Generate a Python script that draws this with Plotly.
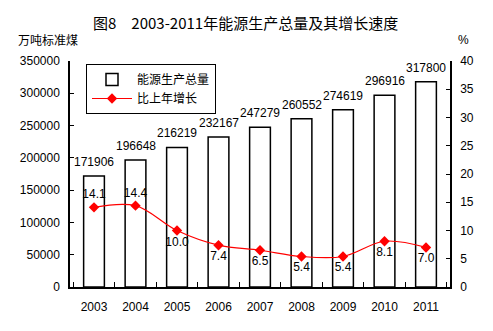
import plotly.graph_objects as go

years = ["2003", "2004", "2005", "2006", "2007", "2008", "2009", "2010", "2011"]
production = [171906, 196648, 216219, 232167, 247279, 260552, 274619, 296916, 317800]
growth = [14.1, 14.4, 10.0, 7.4, 6.5, 5.4, 5.4, 8.1, 7.0]
growth_labels = ["14.1", "14.4", "10.0", "7.4", "6.5", "5.4", "5.4", "8.1", "7.0"]
label_pos = ["top center", "top center"] + ["bottom center"] * 7

num_font = dict(family="Liberation Sans, Arial", size=12, color="black")

fig = go.Figure()
fig.add_trace(go.Bar(
    x=years, y=production, name="能源生产总量",
    marker=dict(color="white", line=dict(color="black", width=1.5)),
    width=0.5,
))
fig.add_trace(go.Scatter(
    x=years, y=growth, name="比上年增长", yaxis="y2",
    mode="lines+markers+text",
    line=dict(color="red", width=1.2, shape="spline"),
    marker=dict(symbol="diamond", size=8, color="red"),
    text=growth_labels, textposition=label_pos, textfont=num_font,
))

pw = 493 - 70 - 43
ph = 331 - 61 - 44

def px(x):
    return (x - 70) / pw

def py(y):
    return (331 - 44 - y) / ph

anns = [
    dict(text="图8　2003-2011年能源生产总量及其增长速度", x=px(245), y=py(23),
         xref="paper", yref="paper", showarrow=False, yanchor="middle",
         font=dict(family="Noto Sans CJK SC", size=15, color="black")),
    dict(text="万吨标准煤", x=px(16), y=py(40), showarrow=False,
         xref="paper", yref="paper", xanchor="left", yanchor="middle",
         font=dict(family="Noto Sans CJK SC", size=12, color="black")),
    dict(text="%", x=px(463), y=py(40), showarrow=False, xref="paper", yref="paper",
         xanchor="center", yanchor="middle",
         font=dict(family="Liberation Sans", size=12, color="black")),
]
# bar value labels; on a category axis annotation x is the category index
for i, v in enumerate(production):
    anns.append(dict(text=str(v), x=i, y=v, xref="x", yref="y", showarrow=False,
                     yanchor="bottom", yshift=5, font=num_font))

fig.update_layout(
    width=493, height=331,
    margin=dict(l=70, r=43, t=61, b=44),
    paper_bgcolor="white", plot_bgcolor="white",
    showlegend=True,
    legend=dict(x=px(86), y=py(64), xanchor="left", yanchor="top",
                bordercolor="black", borderwidth=1, bgcolor="white",
                font=dict(family="Noto Sans CJK SC", size=12, color="black"),
                tracegroupgap=0, itemwidth=40),
    bargap=0.5,
    xaxis=dict(type="category",
               showline=True, linecolor="black", linewidth=1.5,
               ticks="inside", tickson="boundaries", ticklen=5, tickcolor="black",
               tickwidth=1, tickfont=num_font, showgrid=False, ticklabelstandoff=8),
    yaxis=dict(range=[0, 350000], dtick=50000, tickformat="d", showline=True, linecolor="black",
               linewidth=1.5, ticks="inside", ticklen=4, tickcolor="black",
               tickfont=num_font, showgrid=False, zeroline=False, ticklabelstandoff=6),
    yaxis2=dict(range=[0, 40], dtick=5, overlaying="y", side="right",
                showline=True, linecolor="black", linewidth=1.5,
                ticks="inside", ticklen=4, tickcolor="black",
                tickfont=num_font, showgrid=False, zeroline=False, ticklabelstandoff=6),
    annotations=anns,
)

fig.write_html("out.html")
